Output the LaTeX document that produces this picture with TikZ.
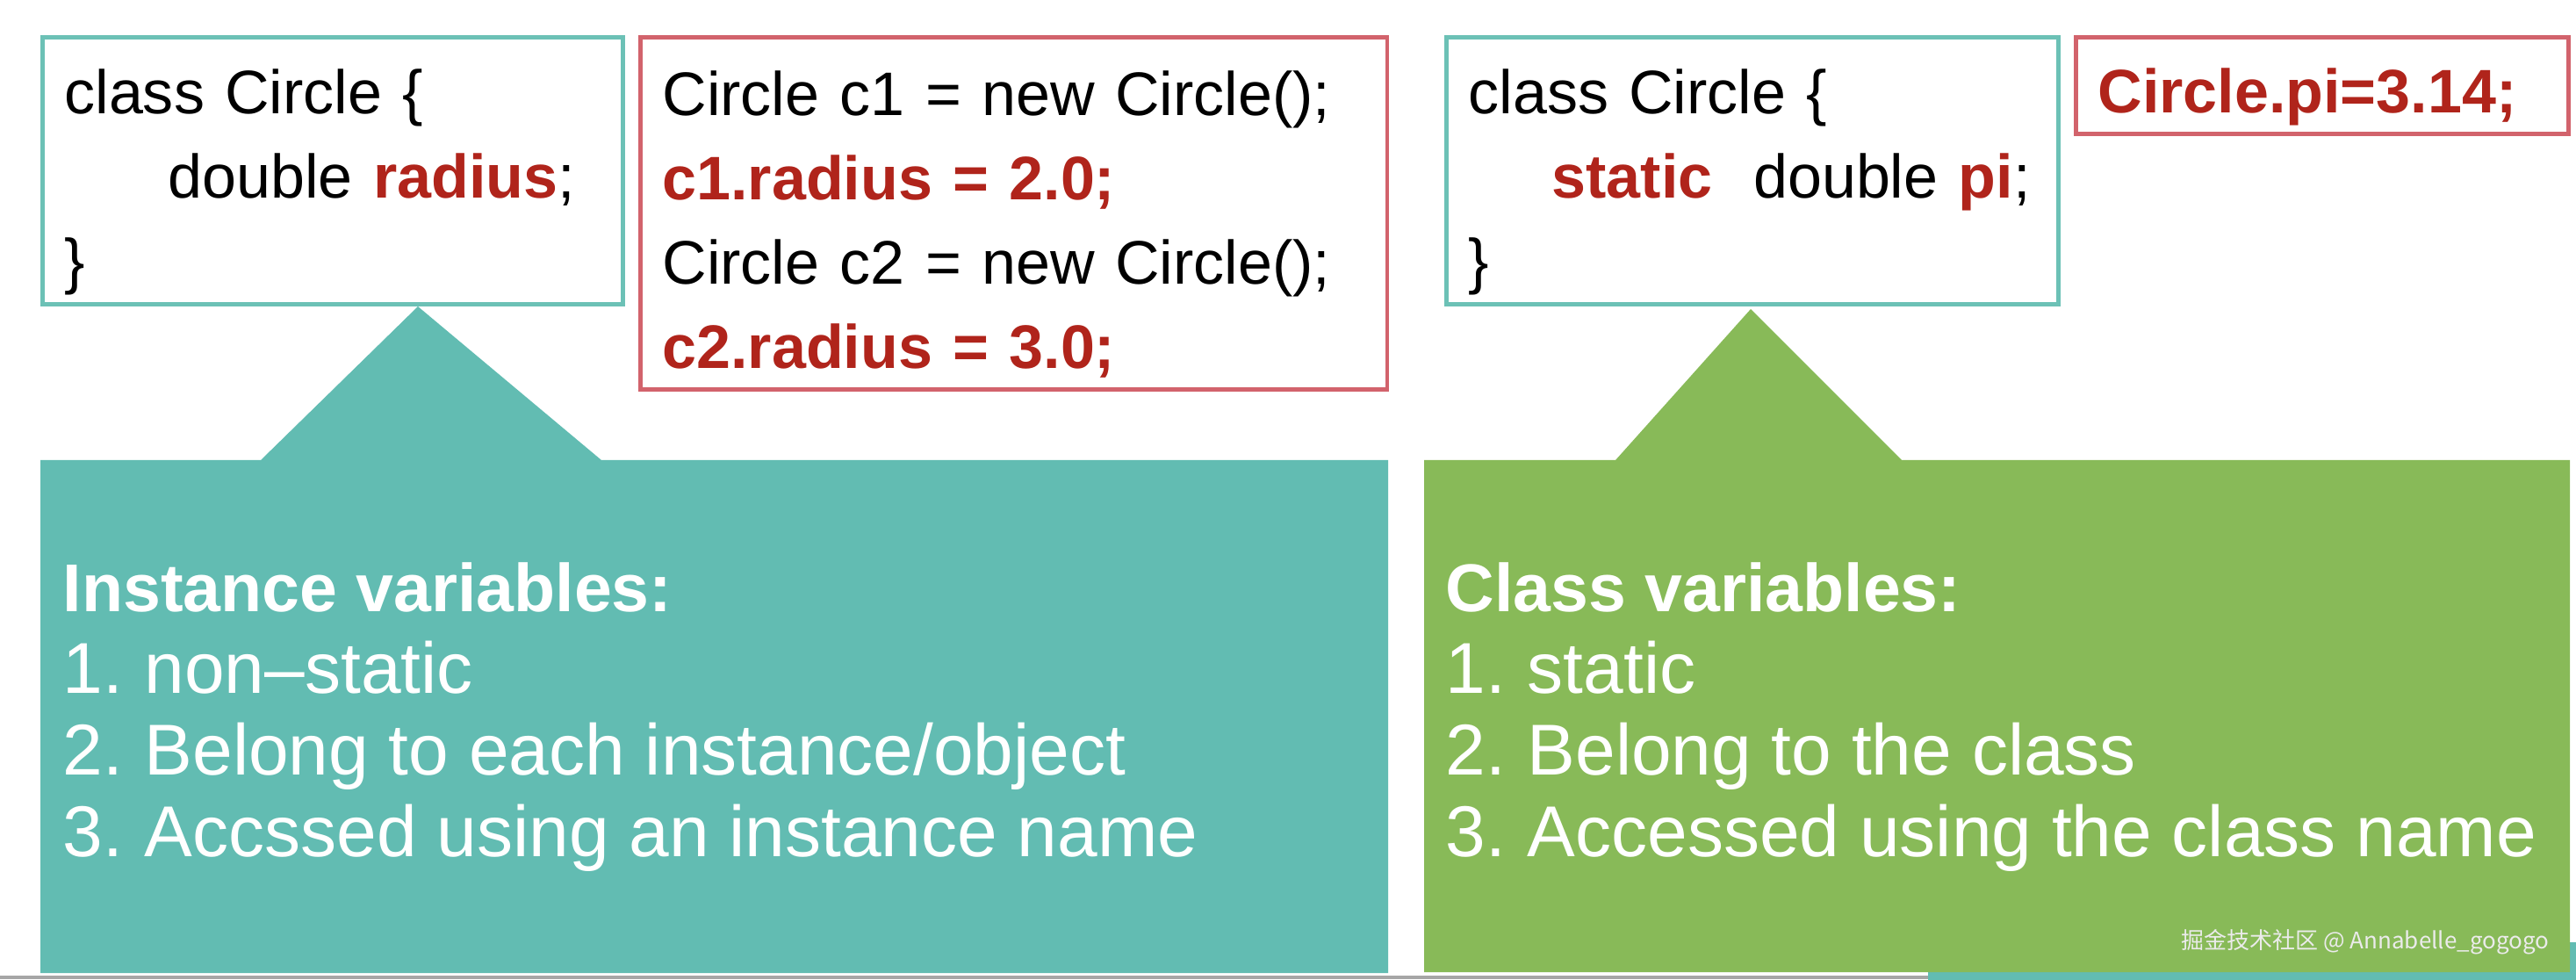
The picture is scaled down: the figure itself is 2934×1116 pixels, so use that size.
\documentclass[tikz,border=0pt]{standalone}
\usepackage{fontspec}
\setmainfont{Liberation Sans}
\newfontfamily\cjkfont{Noto Sans CJK SC}
\usetikzlibrary{positioning}

\definecolor{tealfill}{HTML}{62BCB2}
\definecolor{greenfill}{HTML}{88BA58}
\definecolor{tealline}{HTML}{6CC1B6}
\definecolor{redline}{HTML}{D2636C}
\definecolor{codered}{HTML}{B0241B}

\newcommand\codestrut{\rule[-0.10cm]{0pt}{0.86cm}}
\newcommand\liststrut{\rule[-0.23cm]{0pt}{0.70cm}}
\newcommand\hl[1]{\textcolor{codered}{\textbf{#1}}}
\newcommand\itm[2]{\makebox[0.93cm][l]{#1}#2\liststrut}
\newcommand\headline[1]{{\fontsize{0.77cm}{0.93cm}\selectfont\bfseries #1}\liststrut}

\begin{document}
\begin{tikzpicture}[x=0.01cm,y=-0.01cm,
 codebox/.style={draw,fill=white,line width=1.4pt,anchor=north west,inner xsep=0.25cm,
   inner ysep=0pt,align=left,font=\fontsize{0.70cm}{0.96cm}\selectfont},
 classbox/.style={codebox,draw=tealline},
 accessbox/.style={codebox,draw=redline},
 panel/.style={anchor=north west,inner sep=0pt,align=left,text=white,
   font=\fontsize{0.82cm}{0.93cm}\selectfont}]
\useasboundingbox (0,0) rectangle (2934,1116);

% slide leftovers at the bottom
\fill[tealfill] (2196,1073) rectangle (2934,1116);
\draw[gray!70,line width=0.9pt] (0,1113) -- (2196,1113);

% the two call-outs
\fill[tealfill] (46,524) -- (297,524) -- (476,349) -- (685,524) -- (1581,524)
  -- (1581,1108) -- (46,1108) -- cycle;
\fill[greenfill] (1622,524) -- (1840,524) -- (1994,352) -- (2166,524) -- (2927,524)
  -- (2927,1107) -- (1622,1107) -- cycle;

% code boxes
\node[classbox,minimum width=6.61cm,minimum height=3.04cm,text width=6.11cm] (inst) at (46,40)
 {class Circle \{\codestrut\\
  \hspace*{1.18cm}double \hl{radius};\codestrut\\
  \}\codestrut};
\node[accessbox,minimum width=8.50cm,minimum height=4.01cm,text width=8.00cm] (objs) at (727,40)
 {Circle c1 = new Circle();\codestrut\\
  \hl{c1.radius = 2.0;}\codestrut\\
  Circle c2 = new Circle();\codestrut\\
  \hl{c2.radius = 3.0;}\codestrut};
\node[classbox,minimum width=6.97cm,minimum height=3.04cm,text width=6.47cm] (stat) at (1645,40)
 {class Circle \{\codestrut\\
  \hspace*{0.95cm}\hl{static}\ \ double \hl{pi};\codestrut\\
  \}\codestrut};
\node[accessbox,minimum width=5.61cm,minimum height=1.10cm,text width=5.11cm] (cls) at (2362,40)
 {\hl{Circle.pi=3.14;}\codestrut};

% texts of the call-outs
\node[panel] (instlist) at (71,640)
 {\headline{Instance variables:}\\
  \itm{1.}{non–static}\\
  \itm{2.}{Belong to each instance/object}\\
  \itm{3.}{Accssed using an instance name}};
\node[panel] (clslist) at (1646,640)
 {\headline{Class variables:}\\
  \itm{1.}{static}\\
  \itm{2.}{Belong to the class}\\
  \itm{3.}{Accessed using the class name}};

\node[anchor=base east,inner sep=0pt,text=white!92!black,font=\cjkfont\fontsize{0.26cm}{0.31cm}\selectfont]
 (mark) at (2904,1080) {掘金技术社区 @ Annabelle\_gogogo};
\end{tikzpicture}
\end{document}
